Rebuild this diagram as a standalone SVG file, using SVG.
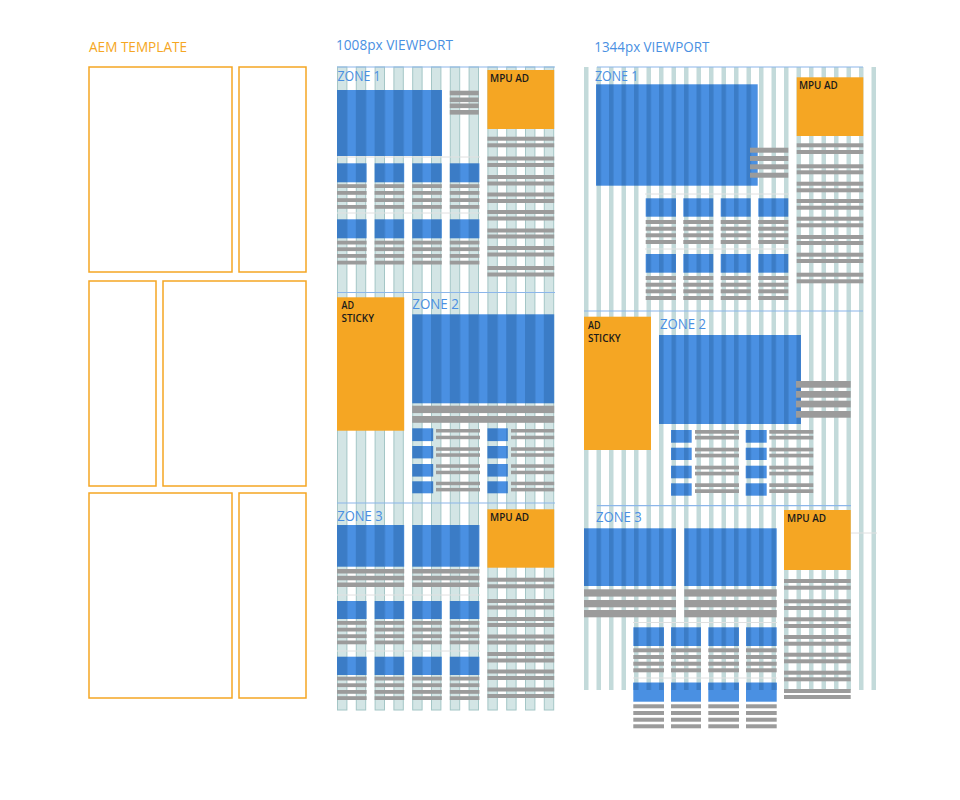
<svg xmlns="http://www.w3.org/2000/svg" width="960" height="800" viewBox="0 0 960 800">
<style>
text{font-family:"Open Sans","Liberation Sans",sans-serif}
.ttl{font-size:14px;fill:#4a90e2}
.aemt{font-size:14px;fill:#f5a623}
.zl{font-size:14px;fill:#4a90e2}
.ad{font-size:11px;font-weight:600;fill:#1a1a1a}
.st{font-size:10px;font-weight:600;fill:#1a1a1a}
.tpl{fill:none;stroke:#f5a623;stroke-width:1.5}
.c1{fill:#d3e5e5;stroke:#a4c6c6;stroke-width:1}
.c2{fill:#c3dada}
.zone{stroke:#8cb6ea;stroke-width:1.2;fill:none}
.dv{stroke:#e0e0e0;stroke-width:1;fill:none}
.gb{fill:#9b9b9b}
.or{fill:#f5a623}
.sb{fill:#4a90e2}
.b1{fill:url(#p1)}
.b2{fill:url(#p2)}
</style>
<defs>
<pattern id="p1" patternUnits="userSpaceOnUse" x="337" y="0" width="18.8" height="20"><rect width="18.8" height="20" fill="#4a90e2"/><rect width="10.4" height="20" fill="#3b7cc6"/></pattern>
<pattern id="p2" patternUnits="userSpaceOnUse" x="584" y="0" width="12.5" height="20"><rect width="12.5" height="20" fill="#4a90e2"/><rect width="4.5" height="20" fill="#3b7cc6"/></pattern>
</defs>
<rect width="960" height="800" fill="#ffffff"/>

<g id="aem-template">
<text class="aemt" x="89" y="51.5" textLength="98" lengthAdjust="spacingAndGlyphs">AEM TEMPLATE</text>
<rect class="tpl" x="89" y="67" width="143" height="205"/>
<rect class="tpl" x="239" y="67" width="67" height="205"/>
<rect class="tpl" x="89" y="281" width="67" height="205"/>
<rect class="tpl" x="163" y="281" width="143" height="205"/>
<rect class="tpl" x="89" y="493" width="143" height="205"/>
<rect class="tpl" x="239" y="493" width="67" height="205"/>
</g>

<g id="viewport-1008">
<text class="ttl" x="336" y="50" textLength="117" lengthAdjust="spacingAndGlyphs">1008px VIEWPORT</text>
<g id="grid-1008">
<rect class="c1" x="337.5" y="67" width="9.4" height="643"/>
<rect class="c1" x="356.3" y="67" width="9.4" height="643"/>
<rect class="c1" x="375.1" y="67" width="9.4" height="643"/>
<rect class="c1" x="393.9" y="67" width="9.4" height="643"/>
<rect class="c1" x="412.7" y="67" width="9.4" height="643"/>
<rect class="c1" x="431.5" y="67" width="9.4" height="643"/>
<rect class="c1" x="450.3" y="67" width="9.4" height="643"/>
<rect class="c1" x="469.1" y="67" width="9.4" height="643"/>
<rect class="c1" x="487.9" y="67" width="9.4" height="643"/>
<rect class="c1" x="506.7" y="67" width="9.4" height="643"/>
<rect class="c1" x="525.5" y="67" width="9.4" height="643"/>
<rect class="c1" x="544.3" y="67" width="9.4" height="643"/>
</g>
<g id="zone1-1008">
<line class="zone" x1="337" y1="67" x2="555" y2="67"/>
<line class="dv" x1="337" y1="157" x2="480" y2="157"/>
<line class="dv" x1="337" y1="213" x2="480" y2="213"/>
<text class="zl" x="337.5" y="80.7" textLength="43" lengthAdjust="spacingAndGlyphs">ZONE 1</text>
<rect class="b1" x="337" y="90" width="105" height="66"/>
<rect class="gb" x="449.8" y="90.7" width="29" height="4.6"/>
<rect class="gb" x="449.8" y="97.5" width="29" height="4.6"/>
<rect class="gb" x="449.8" y="103.5" width="29" height="4.6"/>
<rect class="gb" x="449.8" y="110" width="29" height="4.6"/>
<rect class="b1" x="337" y="163.3" width="29.6" height="19"/>
<rect class="b1" x="374.6" y="163.3" width="29.6" height="19"/>
<rect class="b1" x="412.2" y="163.3" width="29.6" height="19"/>
<rect class="b1" x="449.8" y="163.3" width="29.6" height="19"/>
<g class="gb">
<rect x="337" y="184.2" width="29.6" height="3.8"/><rect x="337" y="191" width="29.6" height="3.8"/><rect x="337" y="198.2" width="29.6" height="3.8"/><rect x="337" y="205" width="29.6" height="3.8"/>
<rect x="374.6" y="184.2" width="29.6" height="3.8"/><rect x="374.6" y="191" width="29.6" height="3.8"/><rect x="374.6" y="198.2" width="29.6" height="3.8"/><rect x="374.6" y="205" width="29.6" height="3.8"/>
<rect x="412.2" y="184.2" width="29.6" height="3.8"/><rect x="412.2" y="191" width="29.6" height="3.8"/><rect x="412.2" y="198.2" width="29.6" height="3.8"/><rect x="412.2" y="205" width="29.6" height="3.8"/>
<rect x="449.8" y="184.2" width="29.6" height="3.8"/><rect x="449.8" y="191" width="29.6" height="3.8"/><rect x="449.8" y="198.2" width="29.6" height="3.8"/><rect x="449.8" y="205" width="29.6" height="3.8"/>
</g>
<rect class="b1" x="337" y="219.3" width="29.6" height="19"/>
<rect class="b1" x="374.6" y="219.3" width="29.6" height="19"/>
<rect class="b1" x="412.2" y="219.3" width="29.6" height="19"/>
<rect class="b1" x="449.8" y="219.3" width="29.6" height="19"/>
<g class="gb">
<rect x="337" y="240.7" width="29.6" height="3.8"/><rect x="337" y="247.3" width="29.6" height="3.8"/><rect x="337" y="254" width="29.6" height="3.8"/><rect x="337" y="260.7" width="29.6" height="3.8"/>
<rect x="374.6" y="240.7" width="29.6" height="3.8"/><rect x="374.6" y="247.3" width="29.6" height="3.8"/><rect x="374.6" y="254" width="29.6" height="3.8"/><rect x="374.6" y="260.7" width="29.6" height="3.8"/>
<rect x="412.2" y="240.7" width="29.6" height="3.8"/><rect x="412.2" y="247.3" width="29.6" height="3.8"/><rect x="412.2" y="254" width="29.6" height="3.8"/><rect x="412.2" y="260.7" width="29.6" height="3.8"/>
<rect x="449.8" y="240.7" width="29.6" height="3.8"/><rect x="449.8" y="247.3" width="29.6" height="3.8"/><rect x="449.8" y="254" width="29.6" height="3.8"/><rect x="449.8" y="260.7" width="29.6" height="3.8"/>
</g>
<g id="mpu1-1008">
<rect class="or" x="487.4" y="70" width="66.8" height="59"/>
<text class="ad" x="490" y="81.7" textLength="39" lengthAdjust="spacingAndGlyphs">MPU AD</text>
</g>
<g class="gb">
<rect x="487.4" y="136.7" width="66.8" height="4"/><rect x="487.4" y="143.3" width="66.8" height="4"/>
<rect x="487.4" y="156.5" width="66.8" height="4"/><rect x="487.4" y="163" width="66.8" height="4"/>
<rect x="487.4" y="175" width="66.8" height="4"/><rect x="487.4" y="181.5" width="66.8" height="4"/>
<rect x="487.4" y="192.5" width="66.8" height="4"/><rect x="487.4" y="199" width="66.8" height="4"/>
<rect x="487.4" y="210" width="66.8" height="4"/><rect x="487.4" y="216.5" width="66.8" height="4"/>
<rect x="487.4" y="228.5" width="66.8" height="4"/><rect x="487.4" y="234.5" width="66.8" height="4"/>
<rect x="487.4" y="246" width="66.8" height="4"/><rect x="487.4" y="252.5" width="66.8" height="4"/>
<rect x="487.4" y="266" width="66.8" height="4"/><rect x="487.4" y="272.5" width="66.8" height="4"/>
</g>
</g>
<g id="zone2-1008">
<line class="zone" x1="337" y1="292.5" x2="555" y2="292.5"/>
<g id="sticky-1008">
<rect class="or" x="337" y="297.3" width="67.2" height="133.4"/>
<text class="st" x="341.5" y="308.5" textLength="12.5" lengthAdjust="spacingAndGlyphs">AD</text>
<text class="st" x="341.5" y="322" textLength="32.5" lengthAdjust="spacingAndGlyphs">STICKY</text>
</g>
<text class="zl" x="412.3" y="309" textLength="46.5" lengthAdjust="spacingAndGlyphs">ZONE 2</text>
<rect class="b1" x="412.2" y="314.3" width="142" height="89"/>
<rect class="gb" x="412.2" y="405.7" width="142" height="7.4"/>
<rect class="gb" x="412.2" y="416" width="142" height="6.8"/>
<rect class="b1" x="412.2" y="428.3" width="21" height="12.8"/>
<rect class="b1" x="412.2" y="446" width="21" height="12.4"/>
<rect class="b1" x="412.2" y="464" width="21" height="12.6"/>
<rect class="b1" x="412.2" y="481.3" width="21" height="12"/>
<rect class="b1" x="487.4" y="428.3" width="20.4" height="12.8"/>
<rect class="b1" x="487.4" y="446" width="20.4" height="12.4"/>
<rect class="b1" x="487.4" y="464" width="20.4" height="12.6"/>
<rect class="b1" x="487.4" y="481.3" width="20.4" height="12"/>
<g class="gb">
<rect x="436" y="429" width="44" height="3.5"/><rect x="436" y="435.7" width="44" height="3.5"/>
<rect x="436" y="447.3" width="44" height="3.5"/><rect x="436" y="453.3" width="44" height="3.5"/>
<rect x="436" y="464.3" width="44" height="3.5"/><rect x="436" y="470.7" width="44" height="3.5"/>
<rect x="436" y="481.7" width="44" height="3.5"/><rect x="436" y="487.9" width="44" height="3.5"/>
<rect x="511" y="429" width="43.2" height="3.5"/><rect x="511" y="435.7" width="43.2" height="3.5"/>
<rect x="511" y="447.3" width="43.2" height="3.5"/><rect x="511" y="453.3" width="43.2" height="3.5"/>
<rect x="511" y="464.3" width="43.2" height="3.5"/><rect x="511" y="470.7" width="43.2" height="3.5"/>
<rect x="511" y="481.7" width="43.2" height="3.5"/><rect x="511" y="487.9" width="43.2" height="3.5"/>
</g>
</g>
<g id="zone3-1008">
<line class="zone" x1="337" y1="503" x2="555" y2="503"/>
<line class="dv" x1="337" y1="595" x2="480" y2="595"/>
<line class="dv" x1="337" y1="651" x2="480" y2="651"/>
<text class="zl" x="337.3" y="520.7" textLength="45.3" lengthAdjust="spacingAndGlyphs">ZONE 3</text>
<rect class="b1" x="337" y="525" width="67.2" height="41.7"/>
<rect class="b1" x="412.2" y="525" width="67.2" height="41.7"/>
<g class="gb">
<rect x="337" y="569" width="67.2" height="4.5"/><rect x="337" y="575.8" width="67.2" height="4.5"/><rect x="337" y="582.5" width="67.2" height="4.5"/>
<rect x="412.2" y="569" width="67.2" height="4.5"/><rect x="412.2" y="575.8" width="67.2" height="4.5"/><rect x="412.2" y="582.5" width="67.2" height="4.5"/>
</g>
<rect class="b1" x="337" y="601" width="29.6" height="18"/>
<rect class="b1" x="374.6" y="601" width="29.6" height="18"/>
<rect class="b1" x="412.2" y="601" width="29.6" height="18"/>
<rect class="b1" x="449.8" y="601" width="29.6" height="18"/>
<g class="gb">
<rect x="337" y="621" width="29.6" height="3.8"/><rect x="337" y="627.7" width="29.6" height="3.8"/><rect x="337" y="634.3" width="29.6" height="3.8"/><rect x="337" y="640.5" width="29.6" height="3.8"/>
<rect x="374.6" y="621" width="29.6" height="3.8"/><rect x="374.6" y="627.7" width="29.6" height="3.8"/><rect x="374.6" y="634.3" width="29.6" height="3.8"/><rect x="374.6" y="640.5" width="29.6" height="3.8"/>
<rect x="412.2" y="621" width="29.6" height="3.8"/><rect x="412.2" y="627.7" width="29.6" height="3.8"/><rect x="412.2" y="634.3" width="29.6" height="3.8"/><rect x="412.2" y="640.5" width="29.6" height="3.8"/>
<rect x="449.8" y="621" width="29.6" height="3.8"/><rect x="449.8" y="627.7" width="29.6" height="3.8"/><rect x="449.8" y="634.3" width="29.6" height="3.8"/><rect x="449.8" y="640.5" width="29.6" height="3.8"/>
</g>
<rect class="b1" x="337" y="656.7" width="29.6" height="18.3"/>
<rect class="b1" x="374.6" y="656.7" width="29.6" height="18.3"/>
<rect class="b1" x="412.2" y="656.7" width="29.6" height="18.3"/>
<rect class="b1" x="449.8" y="656.7" width="29.6" height="18.3"/>
<g class="gb">
<rect x="337" y="676.7" width="29.6" height="3.8"/><rect x="337" y="683.3" width="29.6" height="3.8"/><rect x="337" y="690" width="29.6" height="3.8"/><rect x="337" y="696.2" width="29.6" height="3.8"/>
<rect x="374.6" y="676.7" width="29.6" height="3.8"/><rect x="374.6" y="683.3" width="29.6" height="3.8"/><rect x="374.6" y="690" width="29.6" height="3.8"/><rect x="374.6" y="696.2" width="29.6" height="3.8"/>
<rect x="412.2" y="676.7" width="29.6" height="3.8"/><rect x="412.2" y="683.3" width="29.6" height="3.8"/><rect x="412.2" y="690" width="29.6" height="3.8"/><rect x="412.2" y="696.2" width="29.6" height="3.8"/>
<rect x="449.8" y="676.7" width="29.6" height="3.8"/><rect x="449.8" y="683.3" width="29.6" height="3.8"/><rect x="449.8" y="690" width="29.6" height="3.8"/><rect x="449.8" y="696.2" width="29.6" height="3.8"/>
</g>
<g id="mpu3-1008">
<rect class="or" x="487.4" y="509.3" width="66.8" height="58.4"/>
<text class="ad" x="490" y="521" textLength="39" lengthAdjust="spacingAndGlyphs">MPU AD</text>
</g>
<g class="gb">
<rect x="487.4" y="577.7" width="66.8" height="4"/><rect x="487.4" y="584.3" width="66.8" height="4"/>
<rect x="487.4" y="599" width="66.8" height="4"/><rect x="487.4" y="605.5" width="66.8" height="4"/>
<rect x="487.4" y="617" width="66.8" height="4"/><rect x="487.4" y="623" width="66.8" height="4"/>
<rect x="487.4" y="634.5" width="66.8" height="4"/><rect x="487.4" y="640.5" width="66.8" height="4"/>
<rect x="487.4" y="652" width="66.8" height="4"/><rect x="487.4" y="658.5" width="66.8" height="4"/>
<rect x="487.4" y="669.5" width="66.8" height="4"/><rect x="487.4" y="676" width="66.8" height="4"/>
<rect x="487.4" y="687.5" width="66.8" height="4"/><rect x="487.4" y="694" width="66.8" height="4"/>
</g>
</g>
</g>

<g id="viewport-1344">
<text class="ttl" x="594.3" y="52" textLength="115" lengthAdjust="spacingAndGlyphs">1344px VIEWPORT</text>
<g id="grid-1344" class="c2">
<rect x="584" y="67" width="4.5" height="623"/><rect x="596.5" y="67" width="4.5" height="623"/><rect x="609" y="67" width="4.5" height="623"/><rect x="621.5" y="67" width="4.5" height="623"/>
<rect x="634" y="67" width="4.5" height="623"/><rect x="646.5" y="67" width="4.5" height="623"/><rect x="659" y="67" width="4.5" height="623"/><rect x="671.5" y="67" width="4.5" height="623"/>
<rect x="684" y="67" width="4.5" height="623"/><rect x="696.5" y="67" width="4.5" height="623"/><rect x="709" y="67" width="4.5" height="623"/><rect x="721.5" y="67" width="4.5" height="623"/>
<rect x="734" y="67" width="4.5" height="623"/><rect x="746.5" y="67" width="4.5" height="623"/><rect x="759" y="67" width="4.5" height="623"/><rect x="771.5" y="67" width="4.5" height="623"/>
<rect x="784" y="67" width="4.5" height="623"/><rect x="796.5" y="67" width="4.5" height="623"/><rect x="809" y="67" width="4.5" height="623"/><rect x="821.5" y="67" width="4.5" height="623"/>
<rect x="834" y="67" width="4.5" height="623"/><rect x="846.5" y="67" width="4.5" height="623"/><rect x="859" y="67" width="4.5" height="623"/><rect x="871.5" y="67" width="4.5" height="623"/>
</g>
<g id="zone1-1344">
<line class="zone" x1="597" y1="67" x2="863" y2="67"/>
<line class="dv" x1="645" y1="194" x2="789" y2="194"/>
<line class="dv" x1="645" y1="249" x2="789" y2="249"/>
<text class="zl" x="595" y="80.7" textLength="43.3" lengthAdjust="spacingAndGlyphs">ZONE 1</text>
<rect class="b2" x="596" y="84.3" width="161.7" height="101.4"/>
<g class="gb">
<rect x="750" y="147.7" width="38.3" height="5"/><rect x="750" y="156" width="38.3" height="5"/><rect x="750" y="164.3" width="38.3" height="5"/><rect x="750" y="172.7" width="38.3" height="5"/>
</g>
<g id="mpu1-1344">
<rect class="or" x="796.7" y="77.3" width="66.6" height="58.7"/>
<text class="ad" x="799" y="89" textLength="38.7" lengthAdjust="spacingAndGlyphs">MPU AD</text>
</g>
<g class="gb">
<rect x="796.7" y="143.3" width="66.6" height="4"/><rect x="796.7" y="150" width="66.6" height="4"/>
<rect x="796.7" y="164.3" width="66.6" height="4"/><rect x="796.7" y="170.3" width="66.6" height="4"/>
<rect x="796.7" y="181.7" width="66.6" height="4"/><rect x="796.7" y="188.3" width="66.6" height="4"/>
<rect x="796.7" y="199" width="66.6" height="4"/><rect x="796.7" y="205.7" width="66.6" height="4"/>
<rect x="796.7" y="216.7" width="66.6" height="4"/><rect x="796.7" y="223.3" width="66.6" height="4"/>
<rect x="796.7" y="235" width="66.6" height="4"/><rect x="796.7" y="241" width="66.6" height="4"/>
<rect x="796.7" y="252.7" width="66.6" height="4"/><rect x="796.7" y="259" width="66.6" height="4"/>
<rect x="796.7" y="272.7" width="66.6" height="4"/><rect x="796.7" y="279.3" width="66.6" height="4"/>
</g>
<rect class="b2" x="645.7" y="198.3" width="30.3" height="18.4"/>
<rect class="b2" x="683.3" y="198.3" width="30" height="18.4"/>
<rect class="b2" x="720.7" y="198.3" width="30" height="18.4"/>
<rect class="b2" x="758.3" y="198.3" width="30" height="18.4"/>
<g class="gb">
<rect x="645.7" y="220" width="30.3" height="4"/><rect x="645.7" y="226.7" width="30.3" height="4"/><rect x="645.7" y="233.3" width="30.3" height="4"/><rect x="645.7" y="240" width="30.3" height="4"/>
<rect x="683.3" y="220" width="30" height="4"/><rect x="683.3" y="226.7" width="30" height="4"/><rect x="683.3" y="233.3" width="30" height="4"/><rect x="683.3" y="240" width="30" height="4"/>
<rect x="720.7" y="220" width="30" height="4"/><rect x="720.7" y="226.7" width="30" height="4"/><rect x="720.7" y="233.3" width="30" height="4"/><rect x="720.7" y="240" width="30" height="4"/>
<rect x="758.3" y="220" width="30" height="4"/><rect x="758.3" y="226.7" width="30" height="4"/><rect x="758.3" y="233.3" width="30" height="4"/><rect x="758.3" y="240" width="30" height="4"/>
</g>
<rect class="b2" x="645.7" y="254" width="30.3" height="18.7"/>
<rect class="b2" x="683.3" y="254" width="30" height="18.7"/>
<rect class="b2" x="720.7" y="254" width="30" height="18.7"/>
<rect class="b2" x="758.3" y="254" width="30" height="18.7"/>
<g class="gb">
<rect x="645.7" y="276" width="30.3" height="4"/><rect x="645.7" y="282.7" width="30.3" height="4"/><rect x="645.7" y="289.3" width="30.3" height="4"/><rect x="645.7" y="296" width="30.3" height="4"/>
<rect x="683.3" y="276" width="30" height="4"/><rect x="683.3" y="282.7" width="30" height="4"/><rect x="683.3" y="289.3" width="30" height="4"/><rect x="683.3" y="296" width="30" height="4"/>
<rect x="720.7" y="276" width="30" height="4"/><rect x="720.7" y="282.7" width="30" height="4"/><rect x="720.7" y="289.3" width="30" height="4"/><rect x="720.7" y="296" width="30" height="4"/>
<rect x="758.3" y="276" width="30" height="4"/><rect x="758.3" y="282.7" width="30" height="4"/><rect x="758.3" y="289.3" width="30" height="4"/><rect x="758.3" y="296" width="30" height="4"/>
</g>
</g>
<g id="zone2-1344">
<line class="zone" x1="584" y1="311" x2="863" y2="311"/>
<g id="sticky-1344">
<rect class="or" x="584" y="316.7" width="67" height="133.3"/>
<text class="st" x="588" y="328.5" textLength="12.5" lengthAdjust="spacingAndGlyphs">AD</text>
<text class="st" x="588" y="342" textLength="32.7" lengthAdjust="spacingAndGlyphs">STICKY</text>
</g>
<text class="zl" x="660" y="329" textLength="46" lengthAdjust="spacingAndGlyphs">ZONE 2</text>
<rect class="b2" x="659" y="335" width="142" height="89"/>
<g class="gb">
<rect x="796" y="381" width="54.7" height="6.7"/><rect x="796" y="391" width="54.7" height="6.7"/><rect x="796" y="400.7" width="54.7" height="6.7"/><rect x="796" y="411" width="54.7" height="6.7"/>
</g>
<rect class="b2" x="671" y="430" width="20.7" height="12.7"/>
<rect class="b2" x="671" y="447.7" width="20.7" height="12.3"/>
<rect class="b2" x="671" y="465.7" width="20.7" height="12.6"/>
<rect class="b2" x="671" y="483.3" width="20.7" height="12.4"/>
<rect class="b2" x="745.7" y="430" width="21" height="12.7"/>
<rect class="b2" x="745.7" y="447.7" width="21" height="12.3"/>
<rect class="b2" x="745.7" y="465.7" width="21" height="12.6"/>
<rect class="b2" x="745.7" y="483.3" width="21" height="12.4"/>
<g class="gb">
<rect x="695" y="430" width="44" height="3.7"/><rect x="695" y="435.8" width="44" height="3.7"/>
<rect x="695" y="447.7" width="44" height="3.7"/><rect x="695" y="453.7" width="44" height="3.7"/>
<rect x="695" y="465.7" width="44" height="3.7"/><rect x="695" y="471.7" width="44" height="3.7"/>
<rect x="695" y="483.3" width="44" height="3.7"/><rect x="695" y="489.3" width="44" height="3.7"/>
<rect x="769.3" y="430" width="44" height="3.7"/><rect x="769.3" y="435.8" width="44" height="3.7"/>
<rect x="769.3" y="447.7" width="44" height="3.7"/><rect x="769.3" y="453.7" width="44" height="3.7"/>
<rect x="769.3" y="465.7" width="44" height="3.7"/><rect x="769.3" y="471.7" width="44" height="3.7"/>
<rect x="769.3" y="483.3" width="44" height="3.7"/><rect x="769.3" y="489.3" width="44" height="3.7"/>
</g>
</g>
<g id="zone3-1344">
<line class="zone" x1="597" y1="505.7" x2="851" y2="505.7"/>
<line class="dv" x1="851" y1="533" x2="877" y2="533"/>
<line class="dv" x1="633" y1="622.5" x2="777" y2="622.5"/>
<line class="dv" x1="633" y1="678" x2="777" y2="678"/>
<text class="zl" x="596" y="521.7" textLength="45.7" lengthAdjust="spacingAndGlyphs">ZONE 3</text>
<rect class="b2" x="584" y="528.3" width="92" height="57.7"/>
<rect class="b2" x="684.3" y="528.3" width="92.4" height="57.7"/>
<g class="gb">
<rect x="584" y="589.3" width="92" height="7.3"/><rect x="584" y="600" width="92" height="7.3"/><rect x="584" y="610" width="92" height="7.3"/>
<rect x="684.3" y="589.3" width="92.4" height="7.3"/><rect x="684.3" y="600" width="92.4" height="7.3"/><rect x="684.3" y="610" width="92.4" height="7.3"/>
</g>
<rect class="b2" x="633.3" y="627.3" width="30.7" height="18.7"/>
<rect class="b2" x="671" y="627.3" width="30" height="18.7"/>
<rect class="b2" x="708.3" y="627.3" width="30.7" height="18.7"/>
<rect class="b2" x="746" y="627.3" width="30.7" height="18.7"/>
<g class="gb">
<rect x="633.3" y="648.3" width="30.7" height="4"/><rect x="633.3" y="655" width="30.7" height="4"/><rect x="633.3" y="661.7" width="30.7" height="4"/><rect x="633.3" y="668.3" width="30.7" height="4"/>
<rect x="671" y="648.3" width="30" height="4"/><rect x="671" y="655" width="30" height="4"/><rect x="671" y="661.7" width="30" height="4"/><rect x="671" y="668.3" width="30" height="4"/>
<rect x="708.3" y="648.3" width="30.7" height="4"/><rect x="708.3" y="655" width="30.7" height="4"/><rect x="708.3" y="661.7" width="30.7" height="4"/><rect x="708.3" y="668.3" width="30.7" height="4"/>
<rect x="746" y="648.3" width="30.7" height="4"/><rect x="746" y="655" width="30.7" height="4"/><rect x="746" y="661.7" width="30.7" height="4"/><rect x="746" y="668.3" width="30.7" height="4"/>
</g>
<rect class="sb" x="633.3" y="682.7" width="30.7" height="19"/>
<rect class="sb" x="671" y="682.7" width="30" height="19"/>
<rect class="sb" x="708.3" y="682.7" width="30.7" height="19"/>
<rect class="sb" x="746" y="682.7" width="30.7" height="19"/>
<rect class="b2" x="633.3" y="682.7" width="30.7" height="7.3"/>
<rect class="b2" x="671" y="682.7" width="30" height="7.3"/>
<rect class="b2" x="708.3" y="682.7" width="30.7" height="7.3"/>
<rect class="b2" x="746" y="682.7" width="30.7" height="7.3"/>
<g class="gb">
<rect x="633.3" y="704.3" width="30.7" height="4"/><rect x="633.3" y="711" width="30.7" height="4"/><rect x="633.3" y="717.7" width="30.7" height="4"/><rect x="633.3" y="724.3" width="30.7" height="4"/>
<rect x="671" y="704.3" width="30" height="4"/><rect x="671" y="711" width="30" height="4"/><rect x="671" y="717.7" width="30" height="4"/><rect x="671" y="724.3" width="30" height="4"/>
<rect x="708.3" y="704.3" width="30.7" height="4"/><rect x="708.3" y="711" width="30.7" height="4"/><rect x="708.3" y="717.7" width="30.7" height="4"/><rect x="708.3" y="724.3" width="30.7" height="4"/>
<rect x="746" y="704.3" width="30.7" height="4"/><rect x="746" y="711" width="30.7" height="4"/><rect x="746" y="717.7" width="30.7" height="4"/><rect x="746" y="724.3" width="30.7" height="4"/>
</g>
<g id="mpu3-1344">
<rect class="or" x="784" y="510" width="66.7" height="60"/>
<text class="ad" x="787" y="521.7" textLength="39" lengthAdjust="spacingAndGlyphs">MPU AD</text>
</g>
<g class="gb">
<rect x="784" y="579" width="66.7" height="4"/><rect x="784" y="585.7" width="66.7" height="4"/>
<rect x="784" y="599.3" width="66.7" height="4"/><rect x="784" y="606" width="66.7" height="4"/>
<rect x="784" y="617.3" width="66.7" height="4"/><rect x="784" y="624" width="66.7" height="4"/>
<rect x="784" y="635" width="66.7" height="4"/><rect x="784" y="641.7" width="66.7" height="4"/>
<rect x="784" y="652.7" width="66.7" height="4"/><rect x="784" y="659.3" width="66.7" height="4"/>
<rect x="784" y="670.7" width="66.7" height="4"/><rect x="784" y="677.3" width="66.7" height="4"/>
<rect x="784" y="689" width="66.7" height="4"/><rect x="784" y="695" width="66.7" height="4"/>
</g>
</g>
</g>
</svg>
